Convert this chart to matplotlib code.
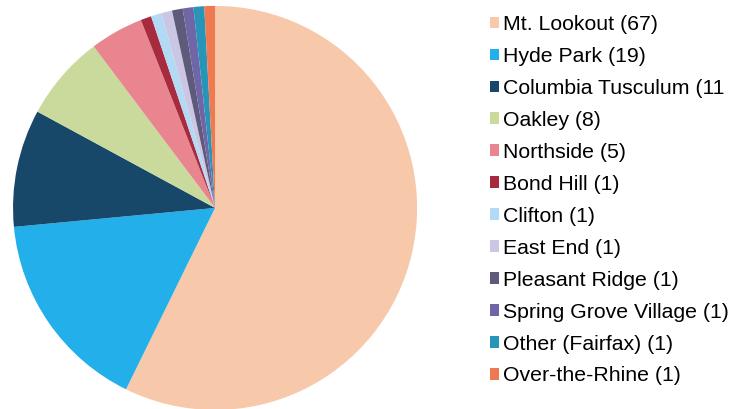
import matplotlib
matplotlib.use("Agg")
import matplotlib.pyplot as plt
from matplotlib.patches import Patch

plt.rcParams['font.family'] = ['Liberation Sans', 'DejaVu Sans']

# neighbourhood counts
names = ['Mt. Lookout', 'Hyde Park', 'Columbia Tusculum', 'Oakley', 'Northside',
         'Bond Hill', 'Clifton', 'East End', 'Pleasant Ridge',
         'Spring Grove Village', 'Other (Fairfax)', 'Over-the-Rhine']
counts = [67, 19, 11, 8, 5, 1, 1, 1, 1, 1, 1, 1]
colors = ['#F7C8AA', '#22AFEA', '#17486A', '#C9DA9C', '#E8858F', '#A82A3E',
          '#B2DAF4', '#CBC6E4', '#5E5A7A', '#6F66A8', '#2795B7', '#EF7A52']

fig = plt.figure(figsize=(7.36, 4.09), dpi=100)
ax = fig.add_axes([0.0177, -0.0024, 0.549, 0.988])
ax.pie(counts, colors=colors, startangle=90, counterclock=False, radius=1,
       wedgeprops=dict(linewidth=0))
ax.set_xlim(-1, 1)
ax.set_ylim(-1, 1)
ax.axis('off')

labels = ['%s (%d)' % (n, c) for n, c in zip(names, counts)]
# the original legend is cut off at the right edge here
labels[2] = labels[2][:-1]
handles = [Patch(facecolor=c, edgecolor='none') for c in colors]
fig.legend(handles, labels, loc='upper left', bbox_to_anchor=(0.645, 1.0),
           bbox_transform=fig.transFigure, frameon=False, fontsize=15.3,
           handlelength=0.45, handleheight=0.45, handletextpad=0.2,
           labelspacing=0.61, borderaxespad=0.3)

fig.savefig('out.png', dpi=100)
